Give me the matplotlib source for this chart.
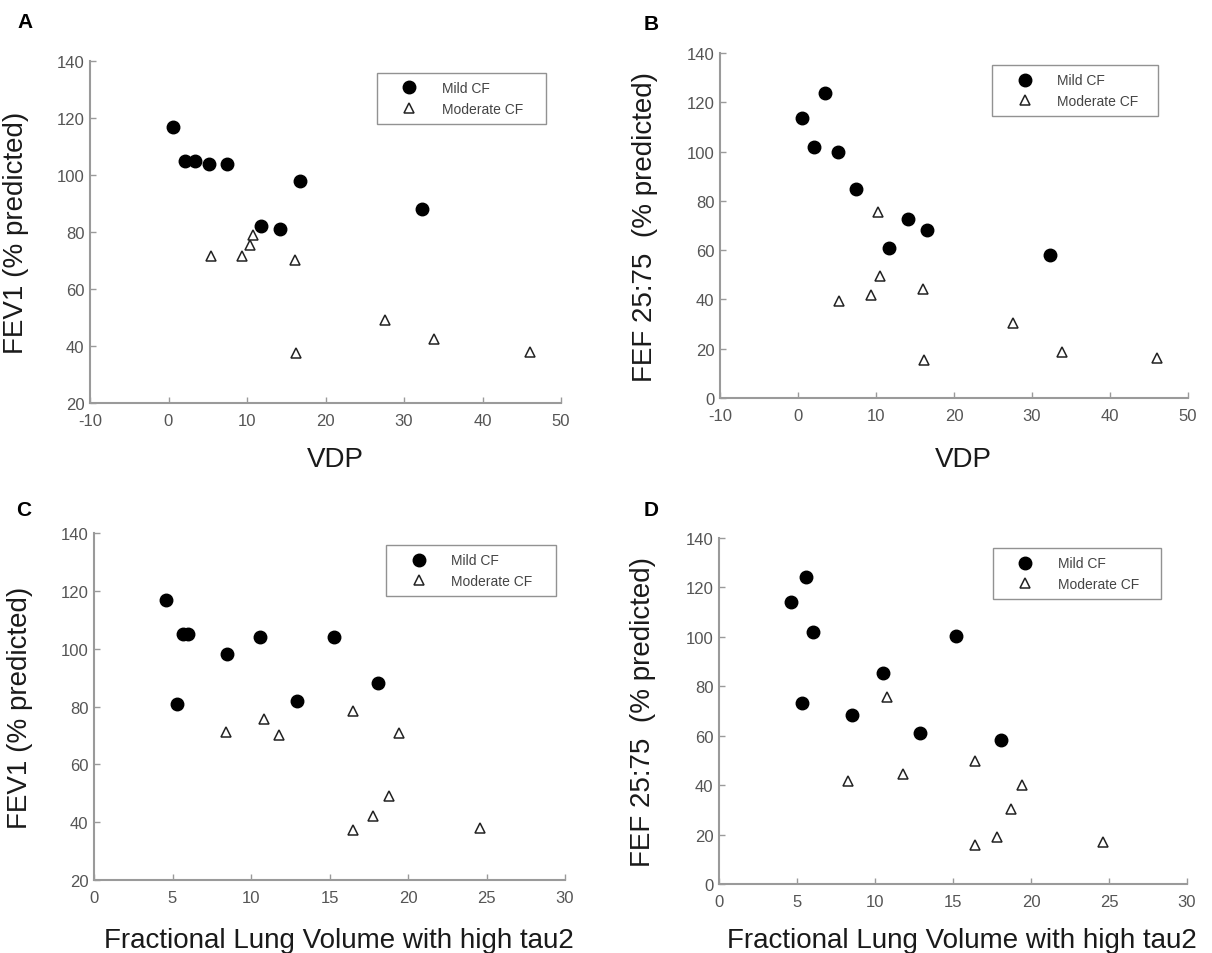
import matplotlib
matplotlib.use("Agg")
import matplotlib.pyplot as plt

plt.rcParams['font.family'] = ['Liberation Sans', 'DejaVu Sans']
plt.rcParams['axes.unicode_minus'] = False

# Panel A: VDP vs FEV1
a_mild_x = [0.6, 2.1, 3.4, 5.2, 7.5, 16.7, 11.8, 14.2, 32.3]
a_mild_y = [117, 105, 105, 104, 104, 98, 82, 81, 88]
a_mod_x = [5.4, 9.3, 10.4, 10.8, 16.1, 16.3, 27.6, 33.8, 46.1]
a_mod_y = [71.5, 71.5, 75.5, 78.8, 70.3, 37.4, 49.2, 42.4, 38]

# Panel B: VDP vs FEF 25:75
b_mild_x = [0.5, 3.4, 2.0, 5.1, 7.4, 14.1, 16.6, 11.7, 32.3]
b_mild_y = [113.6, 123.6, 101.8, 99.8, 84.8, 72.8, 68, 61, 58]
b_mod_x = [10.3, 10.5, 5.3, 9.3, 16.0, 16.2, 27.5, 33.8, 46.0]
b_mod_y = [75.4, 49.6, 39.5, 41.8, 44.4, 15.5, 30.3, 18.6, 16.2]

# Panel C: Fractional lung volume vs FEV1
c_mild_x = [4.6, 5.7, 6.0, 8.5, 10.6, 15.3, 5.3, 12.9, 18.1]
c_mild_y = [117, 105, 105, 98, 104, 104, 81, 82, 88]
c_mod_x = [8.4, 10.8, 11.8, 16.5, 19.4, 16.5, 17.8, 18.8, 24.6]
c_mod_y = [71.2, 75.7, 70, 78.5, 71, 37.2, 42.3, 49, 38]

# Panel D: Fractional lung volume vs FEF 25:75
d_mild_x = [4.6, 5.6, 6.0, 15.2, 10.5, 5.3, 8.5, 12.9, 18.1]
d_mild_y = [114.3, 124.3, 102.1, 100.4, 85.3, 73.3, 68.3, 61.2, 58.4]
d_mod_x = [10.8, 8.3, 11.8, 16.4, 19.4, 18.7, 16.4, 17.8, 24.6]
d_mod_y = [75.7, 41.6, 44.6, 49.7, 39.9, 30.4, 15.9, 18.9, 16.9]

labels = ["Mild CF", "Moderate CF"]
vdp_ticks = [-10, 0, 10, 20, 30, 40, 50]
flv_ticks = [0, 5, 10, 15, 20, 25, 30]
fev_ticks = [20, 40, 60, 80, 100, 120, 140]
fef_ticks = [0, 20, 40, 60, 80, 100, 120, 140]

W, H = 1212, 954
fig = plt.figure(figsize=(W / 100, H / 100), dpi=100)

def px_axes(x0, x1, y0, y1):
    return fig.add_axes([x0 / W, 1 - y1 / H, (x1 - x0) / W, (y1 - y0) / H])

panels = [
    dict(rect=(90, 561, 62, 404), mx=a_mild_x, my=a_mild_y, tx=a_mod_x, ty=a_mod_y,
         xt=vdp_ticks, yt=fev_ticks, xl="VDP", yl="FEV1 (% predicted)", tag="A",
         tagpos=(25, 23), leg=(0.609, 0.965, 0.359), xlab_y=-0.125, ylab_x=-0.13),
    dict(rect=(720, 1188, 54, 399), mx=b_mild_x, my=b_mild_y, tx=b_mod_x, ty=b_mod_y,
         xt=vdp_ticks, yt=fef_ticks, xl="VDP", yl="FEF 25:75  (% predicted)", tag="B",
         tagpos=(651, 24), leg=(0.581, 0.965, 0.355), xlab_y=-0.138, ylab_x=-0.132),
    dict(rect=(94, 565, 534, 881), mx=c_mild_x, my=c_mild_y, tx=c_mod_x, ty=c_mod_y,
         xt=flv_ticks, yt=fev_ticks, xl="Fractional Lung Volume with high tau2",
         yl="FEV1 (% predicted)", tag="C", tagpos=(24, 510),
         leg=(0.62, 0.965, 0.361), xlab_y=-0.135, ylab_x=-0.13),
    dict(rect=(719, 1187, 539, 885), mx=d_mild_x, my=d_mild_y, tx=d_mod_x, ty=d_mod_y,
         xt=flv_ticks, yt=fef_ticks, xl="Fractional Lung Volume with high tau2",
         yl="FEF 25:75  (% predicted)", tag="D", tagpos=(651, 511),
         leg=(0.585, 0.971, 0.359), xlab_y=-0.124, ylab_x=-0.135),
]

spine_col = "#9a9a9a"
tick_col = "#555555"
label_col = "#1a1a1a"

for p in panels:
    ax = px_axes(*p["rect"])
    ax.plot(p["mx"], p["my"], linestyle="none", marker="o", markersize=9,
            color="black", label=labels[0])
    ax.plot(p["tx"], p["ty"], linestyle="none", marker="^", markersize=7.5,
            markerfacecolor="white", markeredgecolor="#222222", markeredgewidth=1.1,
            label=labels[1])
    ax.set_xlim(p["xt"][0], p["xt"][-1])
    ax.set_ylim(p["yt"][0], p["yt"][-1])
    ax.set_xticks(p["xt"])
    ax.set_yticks(p["yt"])
    for s in ["top", "right"]:
        ax.spines[s].set_visible(False)
    for s in ["left", "bottom"]:
        ax.spines[s].set_color(spine_col)
        ax.spines[s].set_linewidth(1.5)
    ax.tick_params(direction="in", length=4, width=1, color=spine_col,
                   labelcolor=tick_col, labelsize=12)
    ax.tick_params(axis="x", pad=7)
    ax.tick_params(axis="y", pad=4)
    ax.set_xlabel(p["xl"], fontsize=20, color=label_col)
    ax.set_ylabel(p["yl"], fontsize=20, color=label_col)
    ax.xaxis.set_label_coords(0.52, p["xlab_y"])
    ax.yaxis.set_label_coords(p["ylab_x"], 0.5)
    lx, ly, lw = p["leg"]
    leg = ax.legend(loc="upper left", bbox_to_anchor=(lx, ly, lw, 0), mode="expand",
                    borderaxespad=0, fontsize=10, frameon=True, fancybox=False,
                    handlelength=3.5, handletextpad=0.6, borderpad=0.6,
                    labelspacing=0.45, edgecolor="#777777", numpoints=1)
    leg.get_frame().set_linewidth(1.0)
    for t in leg.get_texts():
        t.set_color("#444444")
    fig.text(p["tagpos"][0] / W, 1 - p["tagpos"][1] / H, p["tag"], fontsize=15,
             fontweight="bold", ha="center", va="center", color="black")

fig.savefig("out.png", dpi=100)
